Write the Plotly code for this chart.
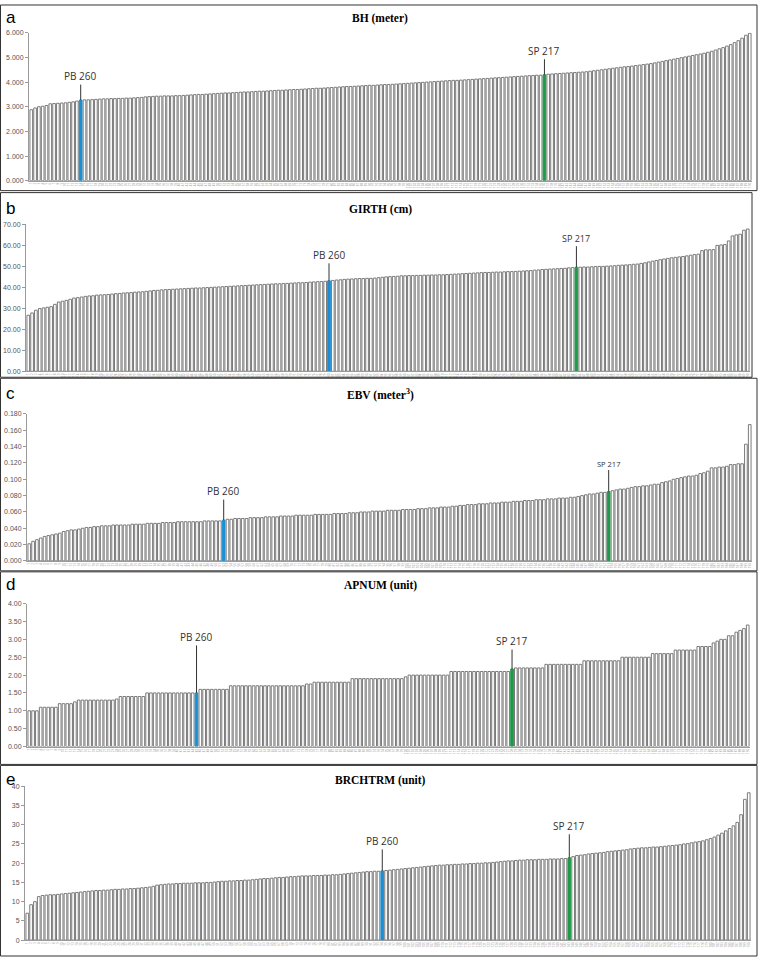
import plotly.graph_objects as go

W, H = 760, 960

# ---------------- data (values sorted ascending per trait) ----------------
bh = [2.88, 2.95, 3.00, 3.02, 3.05, 3.12, 3.13, 3.14, 3.15, 3.16,
      3.18, 3.20, 3.23, 3.27, 3.28, 3.28, 3.29, 3.30, 3.31, 3.32,
      3.32, 3.33, 3.33, 3.34, 3.34, 3.35, 3.35, 3.36, 3.37, 3.38,
      3.40, 3.41, 3.42, 3.43, 3.43, 3.44, 3.44, 3.44, 3.45, 3.45,
      3.46, 3.47, 3.48, 3.49, 3.50, 3.50, 3.51, 3.52, 3.53, 3.54,
      3.55, 3.56, 3.56, 3.57, 3.58, 3.59, 3.60, 3.60, 3.61, 3.62,
      3.63, 3.63, 3.64, 3.65, 3.66, 3.67, 3.67, 3.68, 3.69, 3.70,
      3.70, 3.71, 3.72, 3.73, 3.74, 3.75, 3.75, 3.76, 3.77, 3.78,
      3.79, 3.80, 3.81, 3.82, 3.82, 3.83, 3.84, 3.85, 3.86, 3.87,
      3.87, 3.88, 3.89, 3.90, 3.90, 3.91, 3.92, 3.93, 3.94, 3.95,
      3.96, 3.97, 3.98, 3.99, 4.00, 4.01, 4.02, 4.03, 4.04, 4.05,
      4.06, 4.07, 4.07, 4.08, 4.09, 4.10, 4.11, 4.12, 4.13, 4.14,
      4.15, 4.16, 4.17, 4.18, 4.19, 4.20, 4.21, 4.22, 4.23, 4.24,
      4.25, 4.26, 4.27, 4.28, 4.28, 4.30, 4.32, 4.33, 4.34, 4.35,
      4.36, 4.37, 4.38, 4.39, 4.40, 4.41, 4.42, 4.44, 4.46, 4.48,
      4.50, 4.52, 4.54, 4.56, 4.58, 4.60, 4.62, 4.63, 4.65, 4.67,
      4.69, 4.71, 4.73, 4.75, 4.78, 4.81, 4.84, 4.87, 4.90, 4.93,
      4.96, 4.99, 5.02, 5.05, 5.08, 5.11, 5.14, 5.17, 5.21, 5.25,
      5.30, 5.35, 5.40, 5.46, 5.52, 5.60, 5.68, 5.78, 5.90, 5.98]

girth = [26.7, 27.8, 29.1, 29.9, 30.2, 30.5, 30.8, 31.9, 33.0, 33.4,
         33.8, 34.3, 34.9, 35.1, 35.4, 35.7, 35.9, 36.0, 36.3, 36.4,
         36.5, 36.6, 36.8, 37.0, 37.1, 37.3, 37.4, 37.5, 37.7, 37.8,
         37.9, 38.1, 38.3, 38.5, 38.6, 38.8, 38.9, 39.0, 39.1, 39.2,
         39.3, 39.4, 39.5, 39.6, 39.7, 39.7, 39.8, 39.9, 40.0, 40.1,
         40.2, 40.3, 40.4, 40.5, 40.6, 40.7, 40.8, 40.9, 41.0, 41.1,
         41.2, 41.3, 41.4, 41.5, 41.6, 41.7, 41.7, 41.8, 41.9, 42.0,
         42.1, 42.2, 42.2, 42.3, 42.5, 42.6, 42.7, 42.8, 42.9, 43.1,
         43.3, 43.5, 43.6, 43.8, 43.9, 44.0, 44.1, 44.2, 44.2, 44.3,
         44.3, 44.4, 44.6, 44.8, 45.0, 45.1, 45.2, 45.3, 45.5, 45.5,
         45.6, 45.6, 45.7, 45.7, 45.8, 45.8, 45.9, 45.9, 46.0, 46.0,
         46.1, 46.2, 46.3, 46.4, 46.5, 46.6, 46.7, 46.8, 46.9, 47.0,
         47.1, 47.1, 47.2, 47.3, 47.3, 47.4, 47.5, 47.5, 47.6, 47.7,
         47.8, 47.9, 48.0, 48.2, 48.3, 48.5, 48.6, 48.7, 48.8, 48.9,
         49.0, 49.1, 49.3, 49.4, 49.6, 49.6, 49.7, 49.7, 49.8, 49.9,
         50.0, 50.0, 50.1, 50.2, 50.3, 50.5, 50.6, 50.7, 50.8, 51.0,
         51.1, 51.4, 51.7, 52.1, 52.5, 52.8, 53.2, 53.5, 53.8, 54.1,
         54.3, 54.5, 54.7, 55.0, 55.3, 55.6, 55.8, 57.5, 57.9, 57.9,
         58.0, 60.0, 60.2, 60.4, 62.1, 64.5, 65.0, 65.3, 67.2, 67.8]

ebv = [0.021, 0.024, 0.026, 0.028, 0.030, 0.031, 0.032, 0.033, 0.034, 0.036,
       0.037, 0.038, 0.038, 0.039, 0.040, 0.041, 0.041, 0.042, 0.042, 0.043,
       0.043, 0.043, 0.044, 0.044, 0.044, 0.044, 0.044, 0.045, 0.045, 0.045,
       0.045, 0.046, 0.046, 0.046, 0.046, 0.047, 0.047, 0.047, 0.047, 0.048,
       0.048, 0.048, 0.048, 0.048, 0.048, 0.048, 0.049, 0.049, 0.049, 0.049,
       0.049, 0.050, 0.051, 0.051, 0.052, 0.052, 0.052, 0.052, 0.053, 0.053,
       0.053, 0.053, 0.054, 0.054, 0.054, 0.054, 0.055, 0.055, 0.055, 0.055,
       0.056, 0.056, 0.056, 0.056, 0.056, 0.057, 0.057, 0.057, 0.057, 0.057,
       0.058, 0.058, 0.058, 0.058, 0.059, 0.059, 0.059, 0.060, 0.060, 0.060,
       0.061, 0.061, 0.061, 0.061, 0.062, 0.062, 0.062, 0.062, 0.063, 0.063,
       0.063, 0.063, 0.064, 0.064, 0.064, 0.065, 0.065, 0.065, 0.066, 0.066,
       0.066, 0.067, 0.067, 0.068, 0.068, 0.069, 0.069, 0.069, 0.070, 0.070,
       0.070, 0.071, 0.071, 0.071, 0.072, 0.072, 0.072, 0.073, 0.073, 0.073,
       0.074, 0.074, 0.074, 0.075, 0.075, 0.075, 0.076, 0.076, 0.076, 0.077,
       0.077, 0.077, 0.078, 0.078, 0.079, 0.080, 0.081, 0.082, 0.082, 0.083,
       0.084, 0.084, 0.085, 0.086, 0.087, 0.088, 0.088, 0.089, 0.090, 0.091,
       0.091, 0.092, 0.092, 0.093, 0.094, 0.094, 0.096, 0.097, 0.098, 0.100,
       0.101, 0.102, 0.103, 0.104, 0.104, 0.105, 0.107, 0.108, 0.110, 0.114,
       0.114, 0.115, 0.115, 0.116, 0.118, 0.118, 0.119, 0.119, 0.143, 0.167]

apnum = [1.00, 1.00, 1.00, 1.10, 1.10, 1.10, 1.10, 1.10, 1.20, 1.20,
         1.20, 1.20, 1.25, 1.30, 1.30, 1.30, 1.30, 1.30, 1.30, 1.30,
         1.30, 1.30, 1.30, 1.33, 1.40, 1.40, 1.40, 1.40, 1.40, 1.40,
         1.40, 1.50, 1.50, 1.50, 1.50, 1.50, 1.50, 1.50, 1.50, 1.50,
         1.50, 1.50, 1.50, 1.50, 1.50, 1.60, 1.60, 1.60, 1.60, 1.60,
         1.60, 1.60, 1.60, 1.70, 1.70, 1.70, 1.70, 1.70, 1.70, 1.70,
         1.70, 1.70, 1.70, 1.70, 1.70, 1.70, 1.70, 1.70, 1.70, 1.70,
         1.70, 1.70, 1.70, 1.75, 1.75, 1.80, 1.80, 1.80, 1.80, 1.80,
         1.80, 1.80, 1.80, 1.80, 1.80, 1.90, 1.90, 1.90, 1.90, 1.90,
         1.90, 1.90, 1.90, 1.90, 1.90, 1.90, 1.90, 1.90, 1.90, 1.95,
         2.00, 2.00, 2.00, 2.00, 2.00, 2.00, 2.00, 2.00, 2.00, 2.00,
         2.00, 2.10, 2.10, 2.10, 2.10, 2.10, 2.10, 2.10, 2.10, 2.10,
         2.10, 2.10, 2.10, 2.10, 2.10, 2.10, 2.10, 2.17, 2.20, 2.20,
         2.20, 2.20, 2.20, 2.20, 2.20, 2.20, 2.30, 2.30, 2.30, 2.30,
         2.30, 2.30, 2.30, 2.30, 2.30, 2.30, 2.40, 2.40, 2.40, 2.40,
         2.40, 2.40, 2.40, 2.40, 2.40, 2.40, 2.50, 2.50, 2.50, 2.50,
         2.50, 2.50, 2.50, 2.50, 2.60, 2.60, 2.60, 2.60, 2.60, 2.60,
         2.70, 2.70, 2.70, 2.70, 2.70, 2.70, 2.80, 2.80, 2.80, 2.80,
         2.90, 2.95, 3.00, 3.00, 3.10, 3.10, 3.20, 3.25, 3.30, 3.40]

brchtrm = [7.0, 9.2, 10.0, 11.3, 11.6, 11.7, 11.8, 11.8, 11.9, 12.0,
           12.1, 12.2, 12.3, 12.4, 12.5, 12.6, 12.7, 12.8, 12.9, 12.9,
           13.0, 13.0, 13.1, 13.2, 13.2, 13.3, 13.3, 13.4, 13.4, 13.5,
           13.6, 13.7, 13.8, 14.0, 14.3, 14.4, 14.5, 14.6, 14.6, 14.7,
           14.7, 14.8, 14.8, 14.8, 14.9, 14.9, 14.9, 15.0, 15.0, 15.1,
           15.2, 15.3, 15.3, 15.4, 15.4, 15.5, 15.5, 15.6, 15.6, 15.7,
           15.8, 15.9, 16.0, 16.0, 16.1, 16.2, 16.3, 16.3, 16.4, 16.5,
           16.5, 16.6, 16.7, 16.7, 16.7, 16.8, 16.8, 16.8, 16.9, 16.9,
           17.0, 17.0, 17.1, 17.2, 17.3, 17.4, 17.5, 17.6, 17.7, 17.8,
           17.8, 17.9, 17.9, 18.0, 18.1, 18.2, 18.3, 18.4, 18.5, 18.6,
           18.7, 18.8, 18.9, 19.0, 19.1, 19.2, 19.3, 19.4, 19.5, 19.5,
           19.6, 19.6, 19.7, 19.7, 19.8, 19.8, 19.9, 19.9, 20.0, 20.0,
           20.1, 20.1, 20.2, 20.3, 20.4, 20.5, 20.6, 20.6, 20.7, 20.8,
           20.8, 20.9, 20.9, 20.9, 21.0, 21.0, 21.0, 21.1, 21.1, 21.1,
           21.2, 21.2, 21.4, 21.7, 22.0, 22.1, 22.2, 22.4, 22.5, 22.6,
           22.7, 22.8, 23.0, 23.1, 23.2, 23.3, 23.4, 23.5, 23.7, 23.8,
           23.9, 24.0, 24.0, 24.1, 24.2, 24.2, 24.3, 24.4, 24.5, 24.6,
           24.7, 24.8, 25.0, 25.1, 25.3, 25.5, 25.6, 25.8, 26.1, 26.4,
           26.8, 27.3, 27.8, 28.4, 29.0, 29.7, 30.6, 32.6, 36.6, 38.3]

# position (rank) of the two check clones in each sorted trait
pb260_rank = [13, 79, 51, 44, 93]
sp217_rank = [135, 144, 152, 127, 142]

panel_letters = ["a", "b", "c", "d", "e"]
panel_titles = ["BH (meter)", "GIRTH (cm)", "EBV (meter<sup>3</sup>)",
                "APNUM (unit)", "BRCHTRM (unit)"]
series = [bh, girth, ebv, apnum, brchtrm]
y_max = [6.0, 70.0, 0.18, 4.0, 40.0]
y_dtick = [1.0, 10.0, 0.02, 0.5, 5.0]
y_fmt = [".3f", ".2f", ".3f", ".2f", "d"]

# ---------------- layout geometry (pixels) ----------------
plot_x = [(29, 752), (26, 750), (27, 752), (27, 750), (25, 751)]
plot_y = [(29, 178), (222, 370), (413, 561), (604, 748), (788, 943)]
box_y = [(1, 188), (190, 376), (377, 571), (572, 766), (767, 959)]
box_x1 = [757, 752, 757, 757, 757]
title_y = [15, 207, 393, 586, 782]
pb_off = [-24, -26, -29, -56, -30]
sp_off = [-24, -29, -28, -28, -32]
sp_size = [10, 9, 7.5, 10, 10]

PB_COLOR = "#1a8fd4"
SP_COLOR = "#1f9a4a"
BAR_LINE = "#7a7a7a"

fig = go.Figure()
annotations = []
shapes = []

for k in range(5):
    vals = series[k]
    n = len(vals)
    cats = [str(i + 1) for i in range(n)]
    fill = ["white"] * n
    lcol = [BAR_LINE] * n
    fill[pb260_rank[k]] = PB_COLOR
    lcol[pb260_rank[k]] = PB_COLOR
    fill[sp217_rank[k]] = SP_COLOR
    lcol[sp217_rank[k]] = SP_COLOR
    ax = "x" if k == 0 else f"x{k+1}"
    ay = "y" if k == 0 else f"y{k+1}"
    fig.add_trace(go.Bar(
        x=list(range(n)), y=vals, xaxis=ax, yaxis=ay,
        marker=dict(color=fill, line=dict(color=lcol, width=1)),
        showlegend=False, hoverinfo="y"))

    xk = "xaxis" if k == 0 else f"xaxis{k+1}"
    yk = "yaxis" if k == 0 else f"yaxis{k+1}"
    x0, x1 = plot_x[k]
    yt, yb = plot_y[k]
    fig.update_layout(**{
        xk: dict(domain=[x0 / W, x1 / W], anchor=ay, range=[-0.6, n - 0.4],
                 tickmode="array", tickvals=list(range(n)), ticktext=cats,
                 tickangle=-90, tickfont=dict(size=3, color="#999999"),
                 showline=True, linecolor="#9a9a9a", linewidth=1,
                 ticks="", showgrid=False, zeroline=False, fixedrange=True),
        yk: dict(domain=[1 - yb / H, 1 - yt / H], anchor=ax,
                 range=[0, y_max[k]], dtick=y_dtick[k], tick0=0,
                 tickformat=y_fmt[k], tickfont=dict(size=7, color="#555555",
                                                    family="Liberation Sans"),
                 showline=True, linecolor="#9a9a9a", linewidth=1,
                 ticks="outside", ticklen=3, tickcolor="#9a9a9a",
                 showgrid=False, zeroline=False, fixedrange=True),
    })

    # panel frame
    by0, by1 = box_y[k]
    shapes.append(dict(type="rect", xref="paper", yref="paper",
                       x0=0.5 / W, x1=box_x1[k] / W,
                       y0=1 - by1 / H, y1=1 - by0 / H,
                       line=dict(color="#333333", width=1)))
    # letter
    annotations.append(dict(text=panel_letters[k], xref="paper", yref="paper",
                            x=4 / W, y=1 - (title_y[k] - 1) / H,
                            xanchor="left", yanchor="middle", showarrow=False,
                            font=dict(size=17, color="black",
                                      family="Liberation Sans")))
    # title
    annotations.append(dict(text="<b>" + panel_titles[k] + "</b>",
                            xref="paper", yref="paper",
                            x=0.5, y=1 - title_y[k] / H,
                            xanchor="center", yanchor="middle", showarrow=False,
                            font=dict(size=11.5, color="black",
                                      family="Liberation Serif")))
    # check clone labels
    annotations.append(dict(text="PB 260", xref=ax, yref=ay,
                            x=pb260_rank[k], y=vals[pb260_rank[k]],
                            showarrow=True, arrowhead=0, arrowwidth=1,
                            arrowcolor="#333333", ax=0, ay=pb_off[k],
                            standoff=0,
                            font=dict(size=10, color="#333333",
                                      family="Open Sans")))
    annotations.append(dict(text="SP 217", xref=ax, yref=ay,
                            x=sp217_rank[k], y=vals[sp217_rank[k]],
                            showarrow=True, arrowhead=0, arrowwidth=1,
                            arrowcolor="#333333", ax=0, ay=sp_off[k],
                            standoff=0,
                            font=dict(size=sp_size[k], color="#333333",
                                      family="Open Sans")))

fig.update_layout(width=W, height=H, margin=dict(l=0, r=0, t=0, b=0),
                  paper_bgcolor="white", plot_bgcolor="white",
                  bargap=0.3, annotations=annotations, shapes=shapes)

fig.write_html("out.html")
